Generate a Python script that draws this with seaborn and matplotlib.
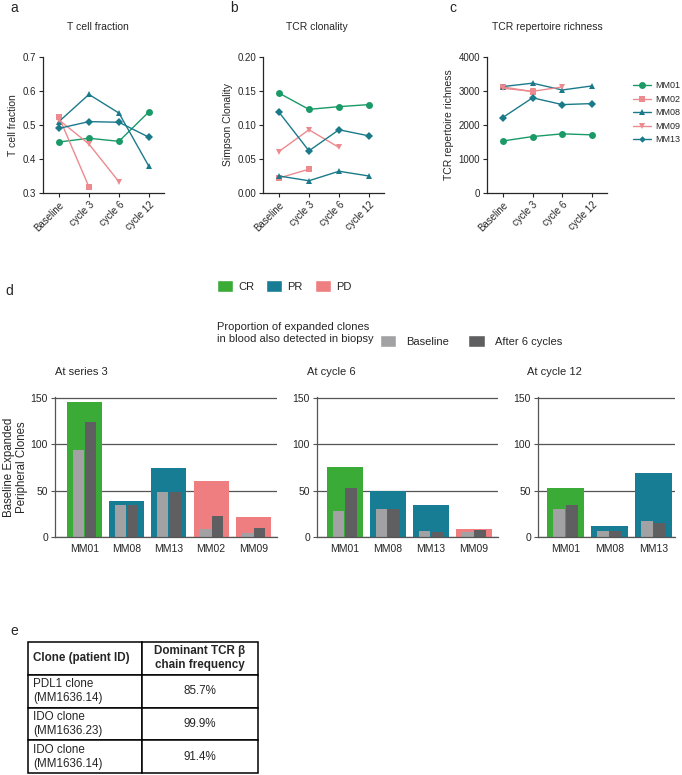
import numpy as np
import pandas as pd
import matplotlib
matplotlib.use("Agg")
import matplotlib.pyplot as plt
from matplotlib.patches import Patch
import seaborn as sns

# ---- values ----
timepoints = ["Baseline", "cycle 3", "cycle 6", "cycle 12"]
patients = ["MM01", "MM02", "MM08", "MM09", "MM13"]

tcell_fraction = {
    "MM01": [0.450, 0.461, 0.452, 0.539],
    "MM02": [0.524, 0.318, np.nan, np.nan],
    "MM08": [0.510, 0.590, 0.535, 0.378],
    "MM09": [0.515, 0.444, 0.333, np.nan],
    "MM13": [0.490, 0.510, 0.508, 0.464],
}
simpson_clonality = {
    "MM01": [0.147, 0.123, 0.127, 0.130],
    "MM02": [0.022, 0.035, np.nan, np.nan],
    "MM08": [0.025, 0.018, 0.032, 0.025],
    "MM09": [0.061, 0.093, 0.067, np.nan],
    "MM13": [0.119, 0.062, 0.093, 0.084],
}
tcr_richness = {
    "MM01": [1530, 1660, 1740, 1710],
    "MM02": [3120, 2980, np.nan, np.nan],
    "MM08": [3130, 3230, 3030, 3150],
    "MM09": [3080, 2990, 3120, np.nan],
    "MM13": [2220, 2800, 2600, 2630],
}

# panel d: baseline expanded peripheral clones
s3_patients = ["MM01", "MM08", "MM13", "MM02", "MM09"]
s3_response = ["CR", "PR", "PR", "PD", "PD"]
s3_total = [146, 39, 74, 60, 22]
s3_baseline = [94, 34, 48, 9, 4]
s3_after = [124, 35, 48, 23, 10]

c6_patients = ["MM01", "MM08", "MM13", "MM09"]
c6_response = ["CR", "PR", "PR", "PD"]
c6_total = [75, 50, 34, 9]
c6_baseline = [28, 30, 6, 5]
c6_after = [53, 30, 5, 8]

c12_patients = ["MM01", "MM08", "MM13"]
c12_response = ["CR", "PR", "PR"]
c12_total = [53, 12, 69]
c12_baseline = [30, 7, 17]
c12_after = [35, 7, 15]

# panel e table
table_header = ["Clone (patient ID)", "Dominant TCR \u03b2\nchain frequency"]
clone_labels = ["PDL1 clone\n(MM1636.14)", "IDO clone\n(MM1636.23)", "IDO clone\n(MM1636.14)"]
tcrb_freq = ["85.7%", "99.9%", "91.4%"]

# ---- styling ----
GREEN = "#199a66"
TEAL = "#1b7a8a"
PINK = "#ec8a8f"
line_colors = {"MM01": GREEN, "MM02": PINK, "MM08": TEAL, "MM09": PINK, "MM13": TEAL}
line_markers = {"MM01": "o", "MM02": "s", "MM08": "^", "MM09": "v", "MM13": "D"}
response_colors = {"CR": "#3aab37", "PR": "#167d94", "PD": "#ef7e80"}
C_BASE = "#a2a2a4"
C_AFTER = "#5f5f61"
GRID = "#555555"

sns.set_style("ticks")
plt.rcParams["font.family"] = ["Liberation Sans", "DejaVu Sans"]

W, H = 682, 775
fig = plt.figure(figsize=(W / 100, H / 100), dpi=100)


def px_axes(x0, y0, x1, y1):
    return fig.add_axes([x0 / W, 1 - y1 / H, (x1 - x0) / W, (y1 - y0) / H])


def to_long(values):
    rows = []
    for p in patients:
        for t, v in zip(timepoints, values[p]):
            if not np.isnan(v):
                rows.append((p, t, v))
    df = pd.DataFrame(rows, columns=["patient", "timepoint", "value"])
    df["timepoint"] = pd.Categorical(df["timepoint"], categories=timepoints, ordered=True)
    return df


def shrink_diamonds(lines, size=3.6):
    # the MM13 diamonds are drawn smaller than the other markers
    for ln in lines:
        if ln.get_marker() == "D":
            ln.set_markersize(size)


def line_panel(ax, values, ylim, yticks, fmt, ylabel, legend=False):
    df = to_long(values)
    sns.lineplot(data=df, x="timepoint", y="value", hue="patient", style="patient",
                 hue_order=patients, style_order=patients, palette=line_colors,
                 markers=line_markers, dashes=False, markersize=5, markeredgewidth=0,
                 linewidth=1, legend="auto" if legend else False, ax=ax)
    shrink_diamonds(ax.lines)
    ax.set_xlim(-0.53, 3.5)
    ax.set_ylim(*ylim)
    ax.set_yticks(yticks)
    ax.set_yticklabels([fmt.format(v) for v in yticks])
    ax.set_xticks(range(len(timepoints)))
    ax.set_xticklabels(timepoints, rotation=45, ha="right", rotation_mode="anchor")
    ax.set_xlabel("")
    ax.set_ylabel(ylabel, fontsize=7.5, labelpad=3)
    ax.tick_params(labelsize=7, length=3, width=0.8, pad=2)
    for s in ("left", "bottom"):
        ax.spines[s].set_linewidth(0.9)
    sns.despine(ax=ax)


ax_a = px_axes(43, 57, 164, 193)
line_panel(ax_a, tcell_fraction, (0.3, 0.7), [0.3, 0.4, 0.5, 0.6, 0.7], "{:.1f}", "T cell fraction")
ax_b = px_axes(263, 57, 384, 193)
line_panel(ax_b, simpson_clonality, (0, 0.2), [0, 0.05, 0.10, 0.15, 0.20], "{:.2f}", "Simpson Clonality")
ax_c = px_axes(487, 57, 607, 193)
line_panel(ax_c, tcr_richness, (0, 4000), [0, 1000, 2000, 3000, 4000], "{:.0f}", "TCR repertoire richness",
           legend=True)
sns.move_legend(ax_c, "center left", bbox_to_anchor=(1.215, 0.59), frameon=False, title=None,
                fontsize=6.5, handlelength=2.0, handletextpad=0.45, labelspacing=0.5,
                borderpad=0, borderaxespad=0)
shrink_diamonds(ax_c.get_legend().get_lines(), 3.3)

for txt, x in [("T cell fraction", 98), ("TCR clonality", 317), ("TCR repertoire richness", 547)]:
    fig.text(x / W, 1 - 27 / H, txt, ha="center", va="center", fontsize=7.5)
for txt, x, y in [("a", 10, 8), ("b", 230, 8), ("c", 449, 8), ("d", 5, 291), ("e", 10, 631)]:
    fig.text(x / W, 1 - y / H, txt, ha="left", va="center", fontsize=10)


def bar_panel(ax, pts, resp, total, base, after, xlim, ylabel=None):
    sns.barplot(x=pts, y=total, hue=resp, palette=response_colors, dodge=False, width=0.83,
                saturation=1, errorbar=None, legend=False, linewidth=0, ax=ax)
    n = len(pts)
    inner = pd.DataFrame({"patient": pts * 2,
                          "timepoint": ["Baseline"] * n + ["After 6 cycles"] * n,
                          "value": base + after})
    sns.barplot(data=inner, x="patient", y="value", hue="timepoint", order=pts,
                hue_order=["Baseline", "After 6 cycles"], palette=[C_BASE, C_AFTER],
                width=0.58, gap=0.08, saturation=1, errorbar=None, legend=False,
                linewidth=0, ax=ax)
    ax.set_xlim(*xlim)
    ax.set_ylim(0, 151)
    ax.set_yticks([0, 50, 100, 150])
    ax.set_axisbelow(True)
    ax.yaxis.grid(True, color=GRID, linewidth=0.9)
    ax.xaxis.grid(False)
    ax.tick_params(axis="x", length=0, labelsize=7.5, pad=5)
    ax.tick_params(axis="y", length=3, width=0.8, labelsize=7.5, pad=2, color=GRID)
    for s in ("left", "bottom"):
        ax.spines[s].set_color(GRID)
        ax.spines[s].set_linewidth(0.9)
    sns.despine(ax=ax)
    ax.set_xlabel("")
    if ylabel:
        ax.set_ylabel(ylabel, fontsize=8.3, labelpad=2, linespacing=1.05)
    else:
        ax.set_ylabel("")


ax_d1 = px_axes(55, 397, 277, 537)
bar_panel(ax_d1, s3_patients, s3_response, s3_total, s3_baseline, s3_after, (-0.7, 4.56),
          ylabel="Baseline Expanded\nPeripheral Clones")
ax_d2 = px_axes(317, 397, 498, 537)
bar_panel(ax_d2, c6_patients, c6_response, c6_total, c6_baseline, c6_after, (-0.65, 3.56))
ax_d3 = px_axes(538, 397, 675, 537)
bar_panel(ax_d3, c12_patients, c12_response, c12_total, c12_baseline, c12_after, (-0.63, 2.49))

for txt, x in [("At series 3", 55), ("At cycle 6", 307), ("At cycle 12", 527)]:
    fig.text(x / W, 1 - 372 / H, txt, ha="left", va="center", fontsize=8)

# legends of panel d
resp_handles = [Patch(facecolor=response_colors[k], label=k) for k in ["CR", "PR", "PD"]]
fig.legend(handles=resp_handles, loc="center left", bbox_to_anchor=(217 / W, 1 - 286 / H), ncol=3,
           frameon=False, fontsize=8, handlelength=1.4, handleheight=1.2, handletextpad=0.5,
           columnspacing=1.1, borderpad=0, borderaxespad=0)
fig.text(217 / W, 1 - 333 / H, "Proportion of expanded clones\nin blood also detected in biopsy",
         ha="left", va="center", fontsize=8, linespacing=1.35)
time_handles = [Patch(facecolor=C_BASE, label="Baseline"), Patch(facecolor=C_AFTER, label="After 6 cycles")]
fig.legend(handles=time_handles, loc="center left", bbox_to_anchor=(380 / W, 1 - 341 / H), ncol=2,
           frameon=False, fontsize=8, handlelength=1.45, handleheight=1.25, handletextpad=0.9,
           columnspacing=1.75, borderpad=0, borderaxespad=0)

# panel e table
ax_t = px_axes(28, 642, 258, 773)
ax_t.axis("off")
tbl = ax_t.table(cellText=[[c, f] for c, f in zip(clone_labels, tcrb_freq)], colLabels=table_header,
                 cellLoc="center", colWidths=[114 / 230, 116 / 230], bbox=[0, 0, 1, 1])
tbl.auto_set_font_size(False)
tbl.set_fontsize(8.4)
for (r, c), cell in tbl.get_celld().items():
    cell.set_edgecolor("black")
    cell.set_linewidth(1.1)
    if r == 0:
        cell.get_text().set_fontweight("bold")
    if c == 0:
        cell.get_text().set_ha("left")
        cell.PAD = 0.045

fig.savefig("out.png", dpi=100)
